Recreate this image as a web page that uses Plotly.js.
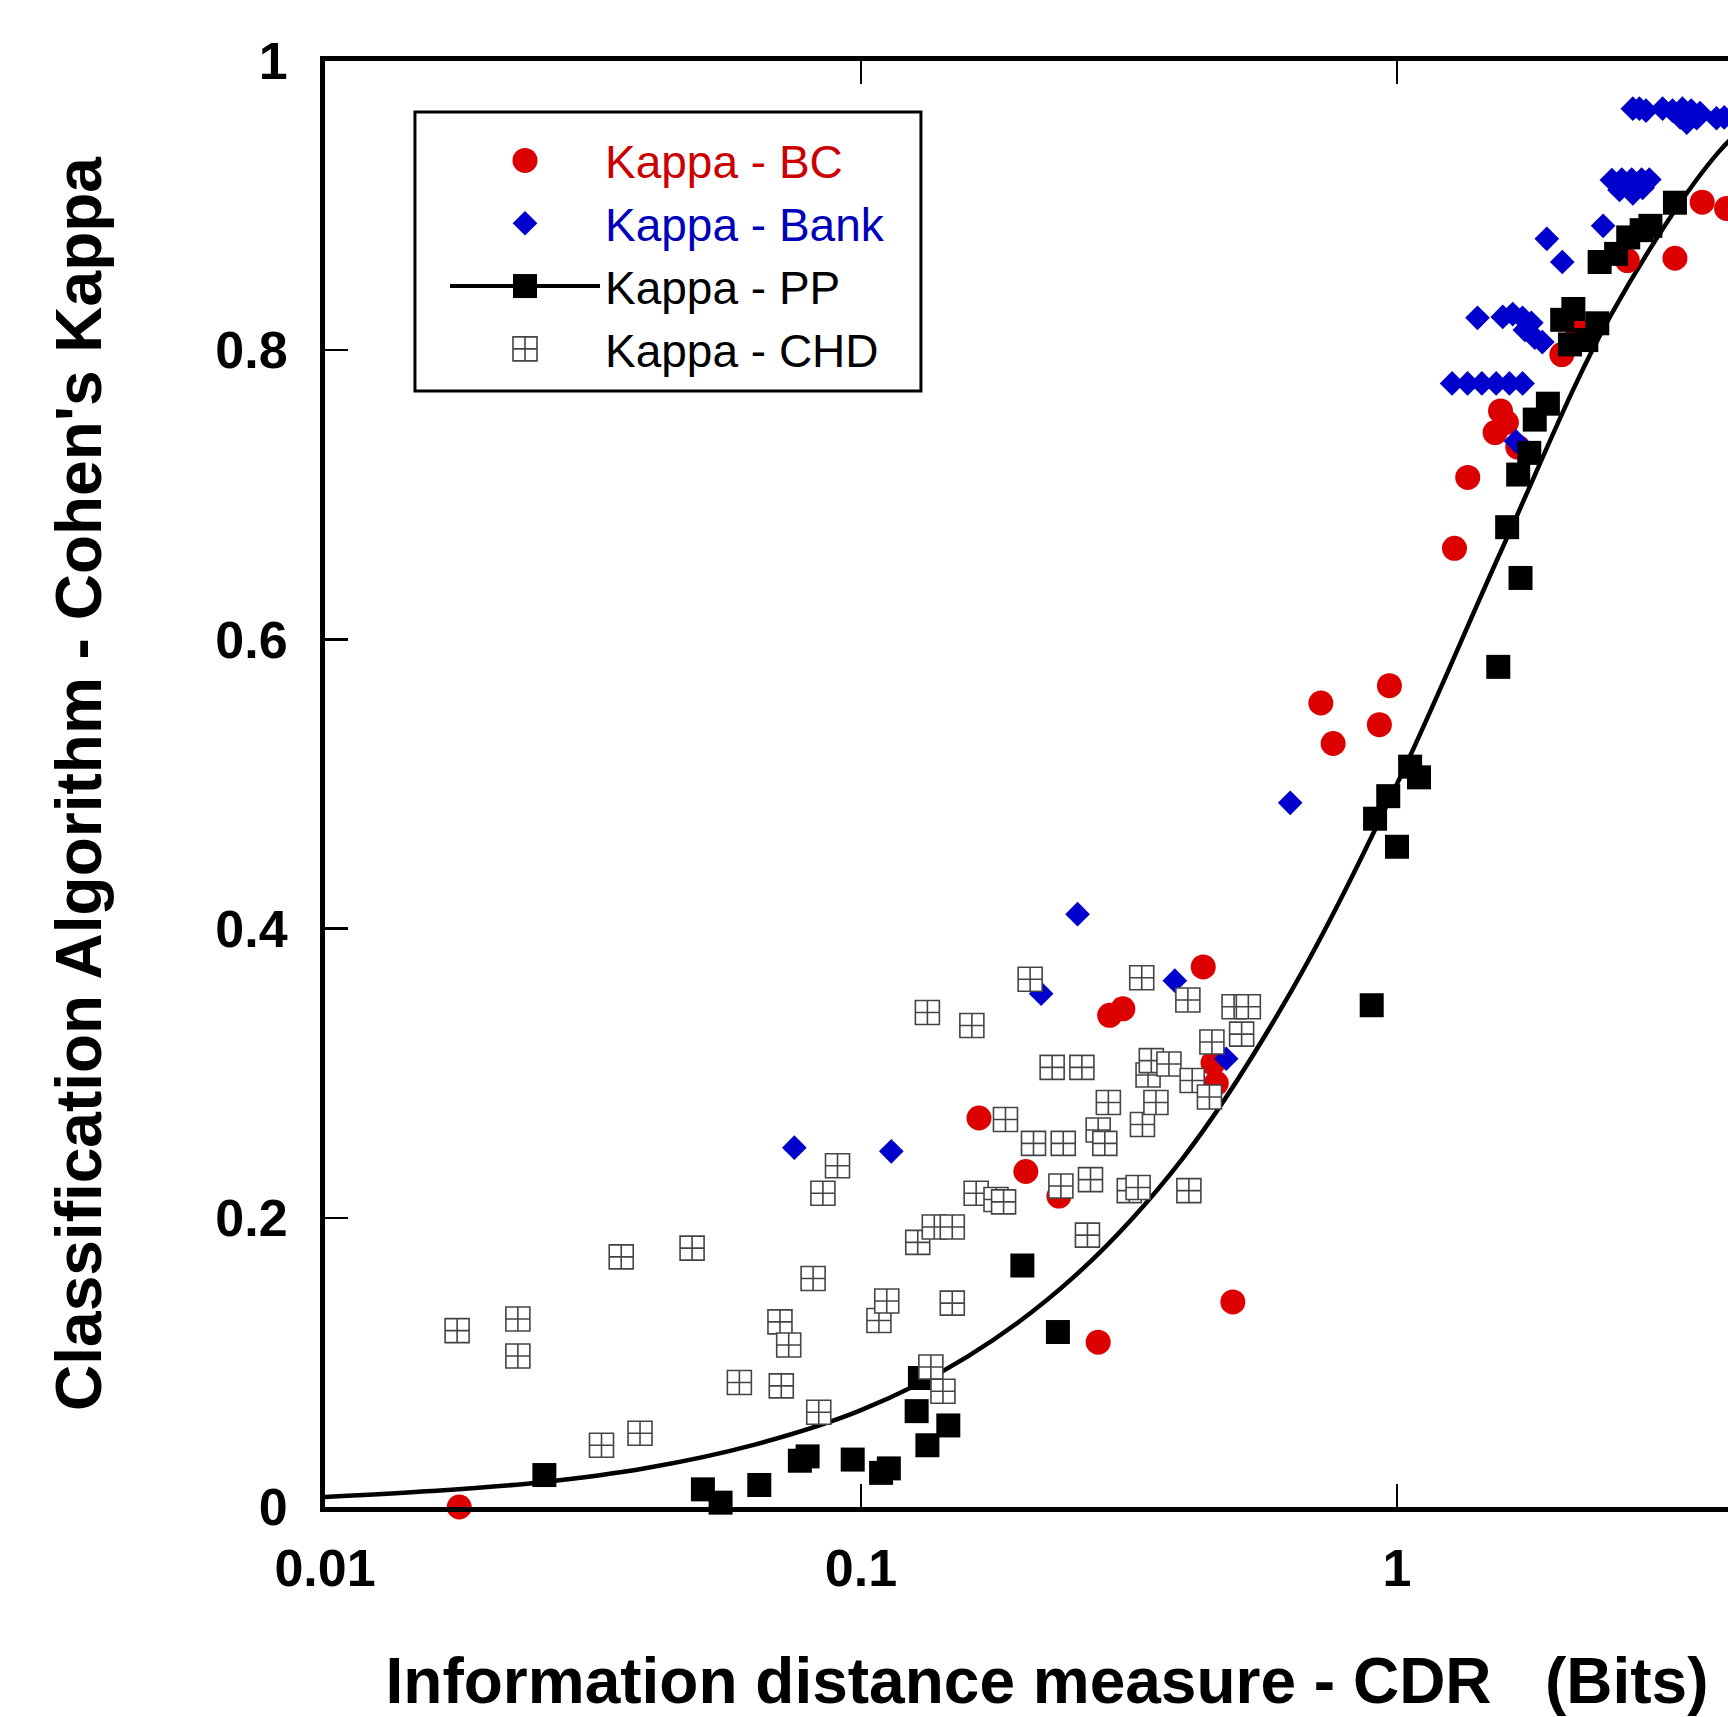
<!DOCTYPE html>
<html>
<head>
<meta charset="utf-8">
<script src="https://cdn.plot.ly/plotly-3.0.1.min.js"></script>
<style>
  html, body { margin: 0; padding: 0; background: #ffffff; }
  #wrap { width: 1728px; height: 1717px; overflow: hidden; position: relative; }
  #chart { width: 1800px; height: 1717px; }
</style>
</head>
<body>
<div id="wrap"><div id="chart"></div></div>
<script>
// ---- Data ----
const bcX = [0.0178, 0.166, 0.203, 0.234, 0.277, 0.291, 0.308, 0.435, 0.4536, 0.460, 0.494,
             0.721, 0.760, 0.927, 0.968, 1.28, 1.355, 1.524, 1.56, 1.60, 1.68, 2.03, 2.17,
             2.69, 3.30, 3.71, 4.12];
const bcY = [0.000, 0.269, 0.232, 0.215, 0.114, 0.340, 0.3445, 0.3735, 0.307, 0.293, 0.1418,
             0.556, 0.528, 0.541, 0.568, 0.663, 0.712, 0.743, 0.758, 0.750, 0.733, 0.797, 0.815,
             0.862, 0.8636, 0.9024, 0.898];

const bankX = [0.0751, 0.1139, 0.2168, 0.2535, 0.385, 0.480, 0.632, 1.667,
               1.267, 1.354, 1.440, 1.531, 1.621, 1.715,
               1.413, 1.575, 1.644, 1.715, 1.781, 1.732, 1.807, 1.867,
               1.903, 2.034, 2.424,
               2.517, 2.626, 2.741, 2.86, 2.956, 2.601, 2.754, 2.873,
               2.754, 2.833, 2.914, 3.13, 3.266, 3.408, 3.539, 3.676, 3.375, 3.472, 3.623, 3.945, 4.078];
const bankY = [0.2485, 0.246, 0.355, 0.410, 0.364, 0.310, 0.487, 0.737,
               0.777, 0.777, 0.777, 0.777, 0.777, 0.777,
               0.8224, 0.823, 0.825, 0.8224, 0.819, 0.814, 0.8087, 0.8056,
               0.877, 0.861, 0.886,
               0.9177, 0.918, 0.918, 0.918, 0.918, 0.9108, 0.9085, 0.9123,
               0.967, 0.967, 0.9657, 0.967, 0.9657, 0.967, 0.9657, 0.964, 0.961, 0.9573, 0.9604, 0.9604, 0.961];

const ppX = [0.02566, 0.0507, 0.0547, 0.0646, 0.0769, 0.0795, 0.0965, 0.109, 0.1127, 0.127,
             0.1288, 0.133, 0.1455, 0.200, 0.233, 0.897, 0.910, 0.963, 1.0, 1.058, 1.099,
             1.545, 1.605, 1.70, 1.683, 1.765, 1.807, 1.912, 2.033, 2.133, 2.102, 2.255,
             2.364, 2.388, 2.563, 2.70, 2.86, 2.97, 3.30];
const ppY = [0.0221, 0.0122, 0.003, 0.0152, 0.032, 0.035, 0.0328, 0.0236, 0.0267, 0.0663,
             0.0892, 0.0427, 0.0564, 0.167, 0.121, 0.347, 0.476, 0.4916, 0.4566, 0.512, 0.5046,
             0.581, 0.6776, 0.6425, 0.714, 0.729, 0.752, 0.763, 0.821, 0.8285, 0.804, 0.807,
             0.8186, 0.861, 0.8666, 0.878, 0.883, 0.886, 0.902];

const chdX = [0.01764, 0.0229, 0.0229, 0.0328, 0.0357, 0.0387, 0.0484, 0.0593, 0.0706, 0.0733,
              0.0710, 0.0834, 0.0814, 0.0849, 0.0904, 0.108, 0.1117, 0.1276, 0.133, 0.135,
              0.1422, 0.137, 0.148, 0.148, 0.161, 0.164, 0.1786, 0.1845, 0.186, 0.2068,
              0.2098, 0.2273, 0.2384, 0.236, 0.2583, 0.2645, 0.268, 0.277, 0.285, 0.2894,
              0.3166, 0.3288, 0.335, 0.334, 0.3432, 0.348, 0.355, 0.3754, 0.4072, 0.409,
              0.4148, 0.4467, 0.4515, 0.4966, 0.513, 0.528];
const chdY = [0.122, 0.130, 0.1044, 0.0427, 0.173, 0.051, 0.179, 0.0861, 0.128, 0.112,
              0.0838, 0.0655, 0.158, 0.217, 0.236, 0.129, 0.1425, 0.183, 0.342, 0.0968,
              0.080, 0.1936, 0.1936, 0.141, 0.333, 0.217, 0.2127, 0.211, 0.268, 0.365,
              0.2515, 0.304, 0.2515, 0.222, 0.304, 0.188, 0.2264, 0.2607, 0.2515, 0.2797,
              0.2188, 0.221, 0.2645, 0.366, 0.2988, 0.3087, 0.2797, 0.3064, 0.3506, 0.2188,
              0.295, 0.2835, 0.3216, 0.346, 0.327, 0.346];

// fitted curve at evenly spaced positions along the log axis
const fitX = [0.01, 0.0158, 0.0251, 0.0398, 0.0631, 0.1, 0.158, 0.251, 0.398, 0.631,
              1.0, 1.585, 2.512, 3.98, 4.94];
const fitY = [0.007, 0.011, 0.017, 0.027, 0.043, 0.067, 0.104, 0.160, 0.241, 0.355,
              0.50, 0.666, 0.825, 0.937, 0.968];

const xTickVals = [0.01, 0.1, 1, 10];
const xTickText = ['0.01', '0.1', '1', '10'];
const yTickVals = [0, 0.2, 0.4, 0.6, 0.8, 1];
const yTickText = ['0', '0.2', '0.4', '0.6', '0.8', '1'];

const names = {
  bc: '<span style="color:#cc0000">Kappa - BC</span>',
  bank: '<span style="color:#0000bb">Kappa - Bank</span>',
  pp: 'Kappa - PP',
  chd: 'Kappa - CHD'
};

// PP points separated by gaps: the legend shows line+marker, but no segments join the squares.
const ppXg = [], ppYg = [];
ppX.forEach((v, i) => { ppXg.push(v, null); ppYg.push(ppY[i], null); });

const FONT = 'Liberation Sans, Arial, Helvetica, sans-serif';

const traces = [
  { x: fitX, y: fitY, mode: 'lines', line: { color: '#000', width: 4.5, shape: 'spline', smoothing: 1 },
    showlegend: false, hoverinfo: 'skip' },
  { x: bcX, y: bcY, mode: 'markers', name: names.bc, cliponaxis: false,
    marker: { symbol: 'circle', size: 25, color: '#dd0000' } },
  { x: bankX, y: bankY, mode: 'markers', name: names.bank, cliponaxis: false,
    marker: { symbol: 'diamond', size: 19, color: '#0000cc' } },
  { x: ppXg, y: ppYg, mode: 'lines+markers', name: names.pp, connectgaps: false, cliponaxis: false,
    line: { color: '#000', width: 4 },
    marker: { symbol: 'square', size: 24, color: '#000' } },
  { x: chdX, y: chdY, mode: 'markers', name: names.chd, cliponaxis: false,
    marker: { symbol: 'square-cross', size: 24, color: '#ffffff', line: { color: '#444', width: 1.6 } } }
];

const layout = {
  width: 1800, height: 1717,
  margin: { l: 325, r: 31, t: 61, b: 210 },
  paper_bgcolor: '#ffffff', plot_bgcolor: '#ffffff',
  font: { family: FONT, color: '#000' },
  showlegend: true,
  legend: {
    x: 0.0831, y: 0.9564, xanchor: 'left', yanchor: 'top',
    bgcolor: 'rgba(0,0,0,0)', borderwidth: 0,
    font: { family: FONT, size: 46, color: '#000' },
    itemwidth: 150, traceorder: 'normal'
  },
  shapes: [
    { type: 'rect', xref: 'paper', yref: 'paper', x0: 0.0623, x1: 0.4127, y0: 0.7718, y1: 0.9647,
      line: { color: '#000', width: 3 }, fillcolor: 'rgba(0,0,0,0)', layer: 'above' }
  ],
  xaxis: {
    type: 'log', range: [-2, 0.694],
    tickmode: 'array', tickvals: xTickVals, ticktext: xTickText,
    ticks: 'inside', ticklen: 23, tickwidth: 2.5, tickcolor: '#000',
    showline: true, linecolor: '#000', linewidth: 5, mirror: 'ticks',
    showgrid: false, zeroline: false,
    ticklabelstandoff: 12,
    tickfont: { family: FONT, size: 52, weight: 'bold', color: '#000' },
    title: { text: 'Information distance measure - CDR\u00a0\u00a0\u00a0(Bits)', standoff: 113,
             font: { family: FONT, size: 64, weight: 'bold', color: '#000' } }
  },
  yaxis: {
    range: [0, 1],
    tickmode: 'array', tickvals: yTickVals, ticktext: yTickText,
    ticks: 'inside', ticklen: 23, tickwidth: 2.5, tickcolor: '#000',
    showline: true, linecolor: '#000', linewidth: 5, mirror: 'ticks',
    showgrid: false, zeroline: false,
    ticklabelstandoff: 22,
    tickfont: { family: FONT, size: 52, weight: 'bold', color: '#000' },
    title: { text: "Classification Algorithm - Cohen's Kappa", standoff: 94,
             font: { family: FONT, size: 64, weight: 'bold', color: '#000' } }
  }
};

Plotly.newPlot('chart', traces, layout, { displayModeBar: false, staticPlot: true }).then(gd => {
  // legend symbols are capped at 16px by Plotly; enlarge them to the traces' marker sizes
  document.querySelectorAll('#chart .legend .traces').forEach(el => {
    const d = el.__data__;
    const tr = d && d[0] && d[0].trace;
    if (!tr || !tr.marker) return;
    const s = tr.marker.size / 16;
    el.querySelectorAll('.legendpoints path.scatterpts').forEach(p => {
      const t = p.getAttribute('transform') || '';
      p.setAttribute('transform', t + ' scale(' + s + ')');
      p.style.vectorEffect = 'non-scaling-stroke';
    });
  });
});
</script>
</body>
</html>
